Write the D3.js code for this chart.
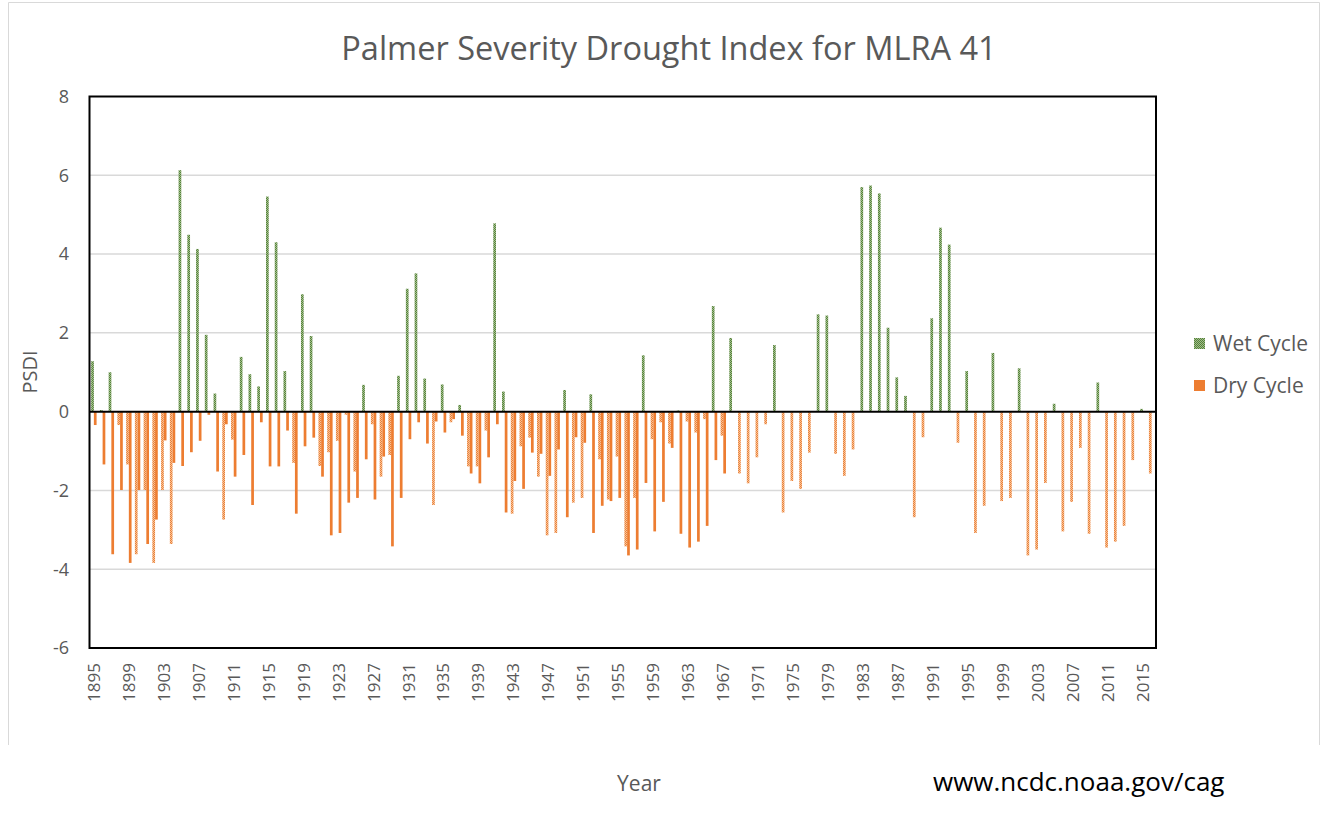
<!DOCTYPE html>
<meta charset="utf-8">
<script src="https://cdn.jsdelivr.net/npm/d3@7"></script>
<style>
body { margin: 0; background: #fff; }
text { font-family: "Open Sans", sans-serif; fill: #595959; }
.grid line { stroke: #d9d9d9; stroke-width: 1.5px; }
</style>
<body>
<script>

// one category per year, 1895 - 2016
var years = d3.range(1895, 2017);

// first bar of each year (green when wet, pale orange when below zero)
var wetCycle = [
  1.28, 0.04, 1.0, -0.34, -1.34, -3.62, -1.99, -3.84, -1.99, -3.36,
  6.13, 4.49, 4.13, 1.95, 0.46, -2.74, -0.71, 1.39, 0.95, 0.64,
  5.46, 4.30, 1.03, -1.30, 2.98, 1.92, -1.38, -1.03, -0.74, -0.08,
  -1.52, 0.68, -0.32, -1.65, -1.10, 0.91, 3.12, 3.51, 0.84, -2.37,
  0.69, -0.27, 0.17, -1.39, -1.39, -0.48, 4.78, 0.51, -2.59, -0.88,
  -0.66, -1.65, -3.14, -3.08, 0.55, -2.31, -2.19, 0.44, -1.21, -2.23,
  -1.14, -3.42, -2.19, 1.43, -0.70, -0.27, -0.81, 0.03, -0.25, -0.53,
  -0.19, 2.68, -0.61, 1.87, -1.57, -1.82, -1.16, -0.32, 1.69, -2.56,
  -1.76, -1.96, -1.04, 2.47, 2.44, -1.07, -1.63, -0.96, 5.70, 5.74,
  5.54, 2.13, 0.87, 0.40, -2.68, -0.65, 2.37, 4.67, 4.24, -0.79,
  1.03, -3.08, -2.39, 1.49, -2.27, -2.19, 1.10, -3.65, -3.50, -1.81,
  0.20, -3.04, -2.29, -0.92, -3.10, 0.74, -3.45, -3.30, -2.90, -1.23,
  0.07, -1.57
];

// second bar of each year (solid orange), stops after 1967
var dryCycle = [
  -0.34, -1.34, -3.62, -1.99, -3.84, -1.99, -3.36, -2.74, -0.73, -1.30,
  -1.38, -1.03, -0.74, -0.08, -1.52, -0.32, -1.65, -1.10, -2.37, -0.27,
  -1.39, -1.39, -0.48, -2.59, -0.88, -0.66, -1.65, -3.14, -3.08, -2.31,
  -2.19, -1.21, -2.23, -1.14, -3.42, -2.19, -0.70, -0.27, -0.81, -0.25,
  -0.53, -0.19, -0.61, -1.57, -1.82, -1.16, -0.32, -2.56, -1.76, -1.96,
  -1.04, -1.07, -1.63, -0.96, -2.68, -0.65, -0.79, -3.08, -2.39, -2.27,
  -2.19, -3.65, -3.50, -1.81, -3.04, -2.29, -0.92, -3.10, -3.45, -3.30,
  -2.90, -1.23, -1.57
];

var yTicks = [-6, -4, -2, 0, 2, 4, 6, 8];
var xTicks = d3.range(1895, 2016, 4);

var width = 1324, height = 819;
var plotLeft = 89.5, plotRight = 1156, plotTop = 96.5, plotBottom = 648;

var svg = d3.select("body").append("svg")
    .attr("width", width)
    .attr("height", height);

// fill patterns for the dotted bars
var defs = svg.append("defs");
function checker(id, dark, light) {
  var p = defs.append("pattern")
      .attr("id", id)
      .attr("width", 2).attr("height", 2)
      .attr("patternUnits", "userSpaceOnUse");
  p.append("rect").attr("width", 2).attr("height", 2).attr("fill", light);
  p.append("rect").attr("width", 1).attr("height", 1).attr("fill", dark);
  p.append("rect").attr("x", 1).attr("y", 1).attr("width", 1).attr("height", 1).attr("fill", dark);
}
checker("wet", "#55803b", "#a2bf8b");
checker("pale", "#ed8037", "#f4c298");

// chart area frame
svg.append("path")
    .attr("d", "M8.5,745V2.5H1319.5V745")
    .attr("fill", "none")
    .attr("stroke", "#d9d9d9");

var x = d3.scaleBand()
    .domain(years)
    .range([plotLeft, plotRight])
    .paddingInner(0.38)
    .paddingOuter(0.19);

var x1 = d3.scaleBand()
    .domain(["wet", "dry"])
    .range([0, x.bandwidth()]);

var y = d3.scaleLinear()
    .domain([-6, 8])
    .range([plotBottom, plotTop]);

// gridlines
svg.append("g")
    .attr("class", "grid")
    .selectAll("line")
    .data(yTicks.filter(function(d) { return d != 0 && d != 8 && d != -6; }))
    .enter().append("line")
    .attr("x1", plotLeft).attr("x2", plotRight)
    .attr("y1", function(d) { return y(d); })
    .attr("y2", function(d) { return y(d); });

// bars
var wetData = years.map(function(yr, i) { return {year: yr, v: wetCycle[i]}; });
var dryData = dryCycle.map(function(v, i) { return {year: years[i], v: v}; });

svg.append("g").selectAll("rect")
    .data(wetData)
    .enter().append("rect")
    .attr("x", function(d) { return x(d.year) + x1("wet"); })
    .attr("width", x1.bandwidth())
    .attr("y", function(d) { return y(Math.max(0, d.v)); })
    .attr("height", function(d) { return Math.abs(y(d.v) - y(0)); })
    .attr("fill", function(d) { return d.v >= 0 ? "url(#wet)" : "url(#pale)"; });

svg.append("g").selectAll("rect")
    .data(dryData)
    .enter().append("rect")
    .attr("x", function(d) { return x(d.year) + x1("dry"); })
    .attr("width", x1.bandwidth())
    .attr("y", function(d) { return y(Math.max(0, d.v)); })
    .attr("height", function(d) { return Math.abs(y(d.v) - y(0)); })
    .attr("fill", "#ed7d31");

// zero line and plot border
svg.append("line")
    .attr("x1", plotLeft).attr("x2", plotRight)
    .attr("y1", y(0)).attr("y2", y(0))
    .attr("stroke", "#000").attr("stroke-width", 2);

svg.append("rect")
    .attr("x", plotLeft).attr("y", plotTop)
    .attr("width", plotRight - plotLeft).attr("height", plotBottom - plotTop)
    .attr("fill", "none")
    .attr("stroke", "#000").attr("stroke-width", 2);

// y axis labels
svg.append("g").selectAll("text")
    .data(yTicks)
    .enter().append("text")
    .attr("x", 69)
    .attr("y", function(d) { return y(d); })
    .attr("dy", "0.35em")
    .attr("text-anchor", "end")
    .style("font-size", "18px")
    .text(function(d) { return d; });

// x axis labels, rotated
svg.append("g").selectAll("text")
    .data(xTicks)
    .enter().append("text")
    .attr("transform", function(d) {
      return "translate(" + (x(d) + x.bandwidth() / 2) + ",663) rotate(-90)";
    })
    .attr("dy", "0.35em")
    .attr("text-anchor", "end")
    .style("font-size", "17px")
    .text(function(d) { return d; });

// titles
svg.append("text")
    .attr("x", 669).attr("y", 60)
    .attr("text-anchor", "middle")
    .style("font-size", "32.5px")
    .text("Palmer Severity Drought Index for MLRA 41");

svg.append("text")
    .attr("transform", "translate(37,372) rotate(-90)")
    .attr("text-anchor", "middle")
    .style("font-size", "20px")
    .text("PSDI");

svg.append("text")
    .attr("x", 639).attr("y", 791)
    .attr("text-anchor", "middle")
    .style("font-size", "21px")
    .text("Year");

svg.append("text")
    .attr("x", 933).attr("y", 791)
    .style("font-size", "26px")
    .style("fill", "#000")
    .text("www.ncdc.noaa.gov/cag");

// legend
var legend = svg.append("g").selectAll("g")
    .data([{name: "Wet Cycle", fill: "url(#wet)"}, {name: "Dry Cycle", fill: "#ed7d31"}])
    .enter().append("g")
    .attr("transform", function(d, i) { return "translate(1194," + (338 + i * 42) + ")"; });

legend.append("rect")
    .attr("width", 11).attr("height", 11)
    .attr("fill", function(d) { return d.fill; });

legend.append("text")
    .attr("x", 19).attr("y", 5.5)
    .attr("dy", "0.35em")
    .style("font-size", "21px")
    .text(function(d) { return d.name; });

</script>
</body>
